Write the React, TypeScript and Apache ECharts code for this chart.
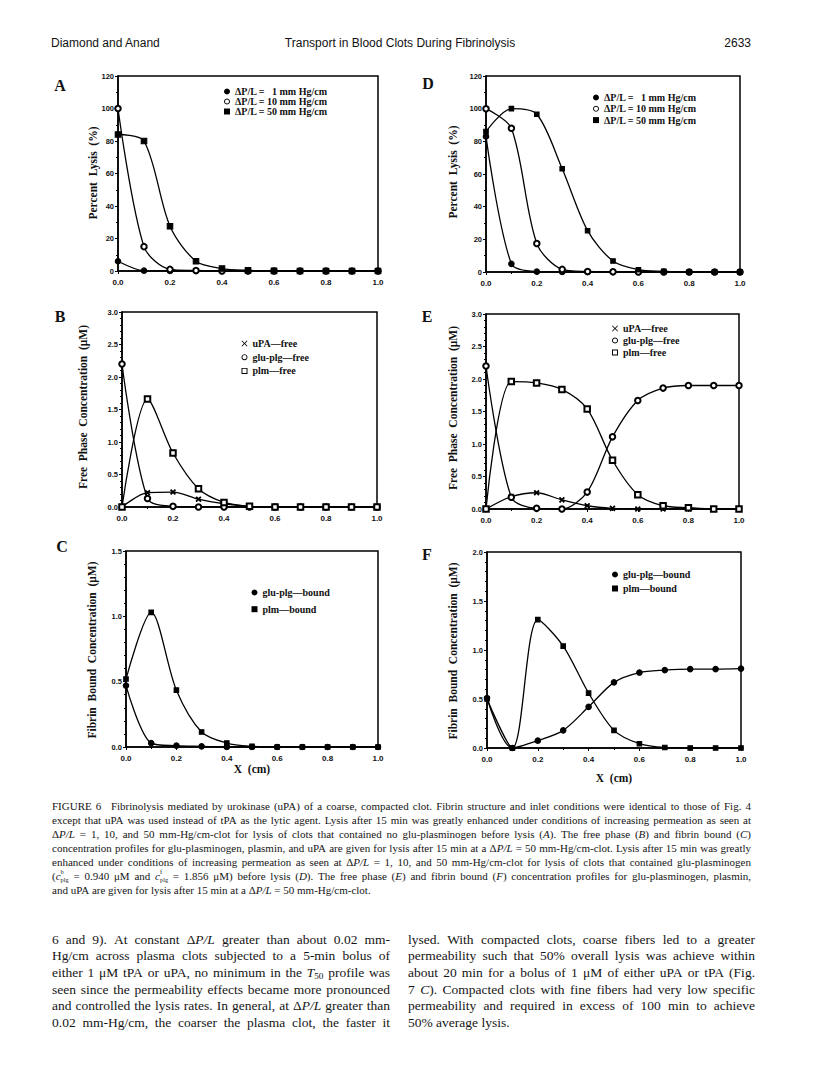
import React, { useEffect, useRef } from 'react';
import * as echarts from 'echarts';

const SERIF = '"Liberation Serif", "Times New Roman", Times, serif';
const SANS = '"Liberation Sans", Arial, Helvetica, sans-serif';

// ---------- data ----------
const xs = [0, 0.1, 0.2, 0.3, 0.4, 0.5, 0.6, 0.7, 0.8, 0.9, 1.0];
const xTickLabels = ['0.0', '0.2', '0.4', '0.6', '0.8', '1.0'];
const lysisTickLabels = ['0', '20', '40', '60', '80', '100', '120'];
const freeTickLabels = ['0.0', '0.5', '1.0', '1.5', '2.0', '2.5', '3.0'];
const boundCTickLabels = ['0.0', '0.5', '1.0', '1.5'];
const boundFTickLabels = ['0.0', '0.5', '1.0', '1.5', '2.0'];

// Panel A (no glu-plasminogen before lysis)
const aLysis1 = [6, 0.2, 0, 0, 0, 0, 0, 0, 0, 0, 0];
const aLysis10 = [100, 15, 1, 0.3, 0, 0, 0, 0, 0, 0, 0];
const aLysis50 = [84, 80, 27.5, 6, 1.5, 0.4, 0.1, 0, 0, 0, 0];
// Panel D (with glu-plasminogen before lysis)
const dLysis1 = [83, 5, 0.2, 0, 0, 0, 0, 0, 0, 0, 0];
const dLysis10 = [100, 88, 17.5, 1.6, 0.3, 0.1, 0, 0, 0, 0, 0];
const dLysis50 = [86, 100, 96.6, 63.2, 25.3, 6.7, 1.4, 0.4, 0, 0, 0];
// Panel B (free phase)
const bUpaFree = [0, 0.22, 0.23, 0.12, 0.05, 0.01, 0, 0, 0, 0, 0];
const bPlgFree = [2.2, 0.13, 0.01, 0, 0, 0, 0, 0, 0, 0, 0];
const bPlmFree = [0, 1.66, 0.83, 0.28, 0.07, 0.01, 0, 0, 0, 0, 0];
// Panel E (free phase)
const eUpaFree = [0, 0.19, 0.25, 0.14, 0.05, 0.01, 0, 0, 0, 0, 0];
const ePlgFree = [2.2, 0.18, 0.01, 0, 0.26, 1.11, 1.67, 1.86, 1.9, 1.9, 1.9];
const ePlmFree = [0, 1.96, 1.94, 1.84, 1.54, 0.75, 0.22, 0.05, 0.02, 0, 0];
// Panel C (fibrin bound)
const cPlgBound = [0.47, 0.03, 0.01, 0.005, 0, 0, 0, 0, 0, 0, 0];
const cPlmBound = [0.52, 1.03, 0.435, 0.115, 0.03, 0.005, 0, 0, 0, 0, 0];
// Panel F (fibrin bound)
const fPlgBound = [0.51, 0, 0.075, 0.18, 0.42, 0.67, 0.77, 0.795, 0.805, 0.805, 0.81];
const fPlmBound = [0.5, 0, 1.31, 1.04, 0.56, 0.18, 0.044, 0.005, 0, 0, 0];

const LEG1 = 'ΔP/L =\u2007 1 mm Hg/cm';
const LEG10 = 'ΔP/L = 10 mm Hg/cm';
const LEG50 = 'ΔP/L = 50 mm Hg/cm';
const UPA = 'uPA—free';
const PLGF = 'glu-plg—free';
const PLMF = 'plm—free';
const PLGB = 'glu-plg—bound';
const PLMB = 'plm—bound';

// ---------- texts ----------
const headerLeft = 'Diamond and Anand';
const headerCenter = 'Transport in Blood Clots During Fibrinolysis';
const headerRight = '2633';

const captionLines = [
  'FIGURE 6\u2002 Fibrinolysis mediated by urokinase (uPA) of a coarse, compacted clot. Fibrin structure and inlet conditions were identical to those of Fig. 4',
  'except that uPA was used instead of tPA as the lytic agent. Lysis after 15 min was greatly enhanced under conditions of increasing permeation as seen at',
  'Δ*P/L* = 1, 10, and 50 mm-Hg/cm-clot for lysis of clots that contained no glu-plasminogen before lysis (*A*). The free phase (*B*) and fibrin bound (*C*)',
  'concentration profiles for glu-plasminogen, plasmin, and uPA are given for lysis after 15 min at a Δ*P/L* = 50 mm-Hg/cm-clot. Lysis after 15 min was greatly',
  'enhanced under conditions of increasing permeation as seen at Δ*P/L* = 1, 10, and 50 mm-Hg/cm-clot for lysis of clots that contained glu-plasminogen',
  '(*c*^{b}_{plg} = 0.940 μM and *c*^{f}_{plg} = 1.856 μM) before lysis (*D*). The free phase (*E*) and fibrin bound (*F*) concentration profiles for glu-plasminogen, plasmin,',
  'and uPA are given for lysis after 15 min at a Δ*P/L* = 50 mm-Hg/cm-clot.',
];

const bodyLeftLines = [
  '6 and 9). At constant Δ*P/L* greater than about 0.02 mm-',
  'Hg/cm across plasma clots subjected to a 5-min bolus of',
  'either 1 μM tPA or uPA, no minimum in the *T*_{50} profile was',
  'seen since the permeability effects became more pronounced',
  'and controlled the lysis rates. In general, at Δ*P/L* greater than',
  '0.02 mm-Hg/cm, the coarser the plasma clot, the faster it',
];
const bodyRightLines = [
  'lysed. With compacted clots, coarse fibers led to a greater',
  'permeability such that 50% overall lysis was achieve within',
  'about 20 min for a bolus of 1 μM of either uPA or tPA (Fig.',
  '7 *C*). Compacted clots with fine fibers had very low specific',
  'permeability and required in excess of 100 min to achieve',
  '50% average lysis.',
];

// ---------- layout ----------
const XPATH = 'path://M1,0L5,4L9,0L10,1L6,5L10,9L9,10L5,6L1,10L0,9L4,5L0,1Z';
const RINGPATH = 'path://M5,0A5,5 0 1,1 4.99,0Z M5,1.5A3.5,3.5 0 1,0 5.01,1.5Z';
const HOLLOWSQ = 'path://M0,0H10V10H0Z M1.6,1.6V8.4H8.4V1.6Z';

const legendIcon = (sym: string) => (sym === 'emptyCircle' ? RINGPATH : sym === 'emptyRect' ? HOLLOWSQ : sym);

const panels = [
  { key: 'A', left: 118, top: 76, width: 260, height: 195, yMax: 120, yInterval: 20, ticks: lysisTickLabels, minor: 2,
    letter: [60, 85], yTitle: 'Percent  Lysis  (%)', yTitlePos: [93, 173], legend: [224, 86.5, 0], xTitle: null as any,
    series: [
      { name: LEG1, data: aLysis1, symbol: 'circle', size: 5.5 },
      { name: LEG10, data: aLysis10, symbol: 'emptyCircle', size: 5.5 },
      { name: LEG50, data: aLysis50, symbol: 'rect', size: 5.5 },
    ] },
  { key: 'D', left: 486, top: 76, width: 254, height: 196, yMax: 120, yInterval: 20, ticks: lysisTickLabels, minor: 2,
    letter: [428, 83], yTitle: 'Percent  Lysis  (%)', yTitlePos: [453, 172], legend: [593, 92.5, 1.3], xTitle: null as any,
    series: [
      { name: LEG1, data: dLysis1, symbol: 'circle', size: 5.5 },
      { name: LEG10, data: dLysis10, symbol: 'emptyCircle', size: 5.5 },
      { name: LEG50, data: dLysis50, symbol: 'rect', size: 4.5 },
    ] },
  { key: 'B', left: 122, top: 312, width: 255, height: 195, yMax: 3, yInterval: 0.5, ticks: freeTickLabels, minor: 5,
    letter: [60, 316], yTitle: 'Free  Phase  Concentration  (μM)', yTitlePos: [83, 407], legend: [241.5, 338.5, 3.7], xTitle: null as any,
    series: [
      { name: UPA, data: bUpaFree, symbol: XPATH, size: 4.5 },
      { name: PLGF, data: bPlgFree, symbol: 'emptyCircle', size: 5.5 },
      { name: PLMF, data: bPlmFree, symbol: 'emptyRect', size: 5.5 },
    ] },
  { key: 'E', left: 486, top: 314, width: 253, height: 195, yMax: 3, yInterval: 0.5, ticks: freeTickLabels, minor: 5,
    letter: [427, 316], yTitle: 'Free  Phase  Concentration  (μM)', yTitlePos: [453, 408], legend: [612, 323.5, 2], xTitle: null as any,
    series: [
      { name: UPA, data: eUpaFree, symbol: XPATH, size: 4.5 },
      { name: PLGF, data: ePlgFree, symbol: 'emptyCircle', size: 5.5 },
      { name: PLMF, data: ePlmFree, symbol: 'emptyRect', size: 5.5 },
    ] },
  { key: 'C', left: 126, top: 551, width: 252, height: 196, yMax: 1.5, yInterval: 0.5, ticks: boundCTickLabels, minor: 5,
    letter: [62, 546], yTitle: 'Fibrin  Bound  Concentration  (μM)', yTitlePos: [92, 650], legend: [251.5, 587.5, 6.7], xTitle: [252, 769],
    series: [
      { name: PLGB, data: cPlgBound, symbol: 'circle', size: 5.5 },
      { name: PLMB, data: cPlmBound, symbol: 'rect', size: 4.5 },
    ] },
  { key: 'F', left: 487, top: 552, width: 254, height: 196, yMax: 2, yInterval: 0.5, ticks: boundFTickLabels, minor: 5,
    letter: [427, 554], yTitle: 'Fibrin  Bound  Concentration  (μM)', yTitlePos: [453, 651], legend: [612, 569.5, 4], xTitle: [614, 778],
    series: [
      { name: PLGB, data: fPlgBound, symbol: 'circle', size: 5.5 },
      { name: PLMB, data: fPlmBound, symbol: 'rect', size: 4.5 },
    ] },
];

// ---------- text layout helpers ----------
let measureCtx: CanvasRenderingContext2D | null = null;
function measure(text: string, font: string) {
  if (!measureCtx) measureCtx = document.createElement('canvas').getContext('2d');
  measureCtx!.font = font;
  return measureCtx!.measureText(text).width;
}
function serifFont(italic: boolean, fs: number) {
  return `${italic ? 'italic ' : ''}${fs}px ${SERIF}`;
}
function layoutWord(w: string, fs: number) {
  const re = /\*([^*]+)\*|\^\{([^}]*)\}|_\{([^}]*)\}|([^*^_]+)/g;
  const pieces: any[] = [];
  let x = 0;
  let supStart: number | null = null;
  let supW = 0;
  let m: RegExpExecArray | null;
  const small = fs * 0.58;
  while ((m = re.exec(w))) {
    if (m[2] !== undefined) {
      const f = serifFont(false, small);
      const wd = measure(m[2], f);
      pieces.push({ text: m[2], font: f, dx: x, dy: -fs * 0.4 });
      supStart = x;
      supW = wd;
      x += wd;
      continue;
    }
    if (m[3] !== undefined) {
      const stacked = supStart !== null;
      const f = serifFont(false, stacked ? small : fs * 0.68);
      const wd = measure(m[3], f);
      const sx = stacked ? (supStart as number) : x;
      pieces.push({ text: m[3], font: f, dx: sx, dy: stacked ? fs * 0.36 : fs * 0.28 });
      x = stacked ? sx + Math.max(wd, supW) : x + wd;
      supStart = null;
      continue;
    }
    supStart = null;
    const italic = m[1] !== undefined;
    const t = italic ? m[1] : m[4];
    const f = serifFont(italic, fs);
    pieces.push({ text: t, font: f, dx: x, dy: 0 });
    x += measure(t, f);
  }
  return { width: x, pieces };
}
function layoutBlock(lines: string[], x0: number, x1: number, y0: number, lh: number, size: number, justifyLast: boolean, out: any[]) {
  const W = x1 - x0;
  lines.forEach((line, li) => {
    const justify = li < lines.length - 1 || justifyLast;
    const raw = line.split(' ').filter((w) => w.length);
    let fs = size;
    let words = raw.map((w) => layoutWord(w, fs));
    let sum = words.reduce((a, b) => a + b.width, 0);
    const minGap = fs * 0.2;
    if (sum + minGap * (words.length - 1) > W) {
      fs = fs * W / (sum + minGap * (words.length - 1));
      words = raw.map((w) => layoutWord(w, fs));
      sum = words.reduce((a, b) => a + b.width, 0);
    }
    const gap = justify && words.length > 1 ? (W - sum) / (words.length - 1) : measure(' ', serifFont(false, fs));
    let x = x0;
    const y = y0 + li * lh;
    words.forEach((wd) => {
      wd.pieces.forEach((p: any) => {
        if (!p.text.trim()) return;
        out.push({
          type: 'text', x: x + p.dx, y: y + p.dy, silent: true,
          style: { text: p.text, font: p.font, fill: '#151515', align: 'left', verticalAlign: 'middle' },
        });
      });
      x += wd.width + gap;
    });
  });
}

function buildOption() {
  const grid: any[] = [];
  const xAxis: any[] = [];
  const yAxis: any[] = [];
  const series: any[] = [];
  const legend: any[] = [];
  const graphic: any[] = [];

  panels.forEach((p, i) => {
    grid.push({ left: p.left, top: p.top, width: p.width, height: p.height, show: true, borderColor: '#000', borderWidth: 1.5, backgroundColor: 'transparent' });
    xAxis.push({
      type: 'value', gridIndex: i, min: 0, max: 1, interval: 0.2,
      axisLine: { show: true, onZero: false, lineStyle: { color: '#000', width: 1.5 } },
      axisTick: { show: true, length: 3, lineStyle: { color: '#000', width: 1 } },
      minorTick: { show: true, splitNumber: 2, length: 2, lineStyle: { color: '#000', width: 1 } },
      splitLine: { show: false },
      axisLabel: { margin: 7, color: '#111', fontFamily: SANS, fontWeight: 'bold', fontSize: 8,
        formatter: (v: number) => xTickLabels[Math.round(v / 0.2)] ?? '' },
    });
    yAxis.push({
      type: 'value', gridIndex: i, min: 0, max: p.yMax, interval: p.yInterval,
      axisLine: { show: true, onZero: false, lineStyle: { color: '#000', width: 1.5 } },
      axisTick: { show: true, length: 3, lineStyle: { color: '#000', width: 1 } },
      minorTick: { show: true, splitNumber: p.minor, length: 2, lineStyle: { color: '#000', width: 1 } },
      splitLine: { show: false },
      axisLabel: { margin: 4, color: '#111', fontFamily: SANS, fontWeight: 'bold', fontSize: 7.5,
        formatter: (v: number) => p.ticks[Math.round(v / p.yInterval)] ?? '' },
    });
    p.series.forEach((s) => {
      series.push({
        type: 'line', name: s.name, xAxisIndex: i, yAxisIndex: i,
        data: xs.map((x, k) => [x, s.data[k]]),
        smooth: 0.3, symbol: s.symbol, symbolSize: s.size, showSymbol: true,
        lineStyle: { color: '#000', width: 1.3 },
        itemStyle: { color: '#000', borderColor: '#000', borderWidth: 1.1 },
        emphasis: { disabled: true },
        z: 3,
      });
    });
    legend.push({
      left: p.legend[0], top: p.legend[1], orient: 'vertical', padding: 0, itemGap: p.legend[2],
      itemWidth: 6, itemHeight: 6, selectedMode: false,
      data: p.series.map((s) => ({ name: s.name, icon: legendIcon(s.symbol) })),
      itemStyle: { borderWidth: 0 },
      textStyle: { fontFamily: SERIF, fontWeight: 'bold', fontSize: 10, color: '#111', lineHeight: 10 },
    });
    graphic.push({ type: 'text', x: p.letter[0], y: p.letter[1], silent: true,
      style: { text: p.key, font: `bold 16px ${SERIF}`, fill: '#111', align: 'center', verticalAlign: 'middle' } });
    graphic.push({ type: 'text', x: p.yTitlePos[0], y: p.yTitlePos[1], rotation: Math.PI / 2, silent: true,
      style: { text: p.yTitle.replace(/  /g, ' \u00a0'), font: `bold 11.5px ${SERIF}`, fill: '#111', align: 'center', verticalAlign: 'middle' } });
    if (p.xTitle) {
      graphic.push({ type: 'text', x: p.xTitle[0], y: p.xTitle[1], silent: true,
        style: { text: 'X \u00a0(cm)', font: `bold 11.5px ${SERIF}`, fill: '#111', align: 'center', verticalAlign: 'middle' } });
    }
  });

  // header
  graphic.push({ type: 'text', x: 51, y: 43, silent: true, style: { text: headerLeft, font: `12px ${SANS}`, fill: '#111', align: 'left', verticalAlign: 'middle' } });
  graphic.push({ type: 'text', x: 400, y: 43, silent: true, style: { text: headerCenter, font: `12px ${SANS}`, fill: '#111', align: 'center', verticalAlign: 'middle' } });
  graphic.push({ type: 'text', x: 751, y: 43, silent: true, style: { text: headerRight, font: `12px ${SANS}`, fill: '#111', align: 'right', verticalAlign: 'middle' } });

  layoutBlock(captionLines, 52, 751, 806, 14, 11, false, graphic);
  layoutBlock(bodyLeftLines, 52, 390, 939, 16.7, 13.5, true, graphic);
  layoutBlock(bodyRightLines, 408, 755, 939, 16.7, 13.5, false, graphic);

  return {
    animation: false,
    backgroundColor: '#fff',
    grid, xAxis, yAxis, series, legend,
    graphic: { elements: graphic },
  };
}

export default function App() {
  const ref = useRef<HTMLDivElement>(null);
  useEffect(() => {
    const el = ref.current!;
    const chart = echarts.init(el, null, { renderer: 'svg' });
    chart.setOption(buildOption());
    return () => chart.dispose();
  }, []);
  return <div ref={ref} style={{ position: 'absolute', left: 0, top: 0, width: 816, height: 1086, background: '#fff' }} />;
}
